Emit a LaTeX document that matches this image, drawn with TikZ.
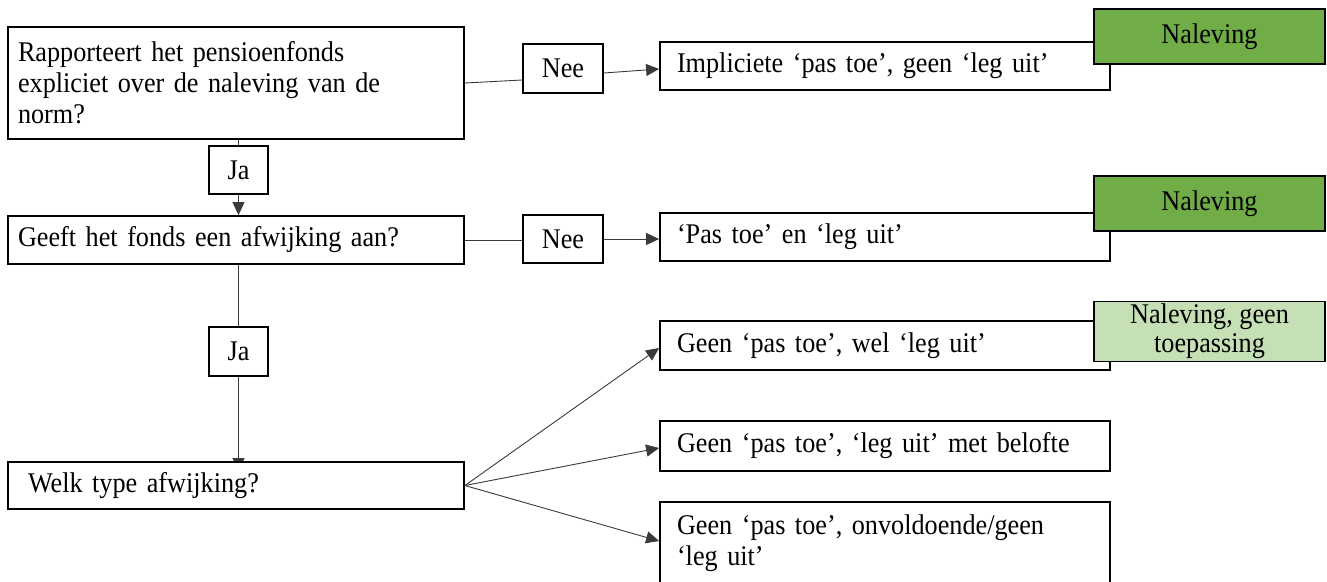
\documentclass[tikz,border=0pt]{standalone}
\usepackage{fontspec}
\setmainfont[FakeStretch=0.92]{Liberation Serif}
\usetikzlibrary{arrows.meta}
\pgfdeclarelayer{bg}
\pgfsetlayers{bg,main}
\definecolor{naldark}{HTML}{70AD47}
\definecolor{nallight}{HTML}{C5E0B4}
\definecolor{conn}{HTML}{3A3A3A}
\begin{document}
\begin{tikzpicture}[x=1pt,y=-1pt,
  every node/.style={font=\fontsize{28.5}{31}\selectfont},
  qbox/.style={draw=black, line width=1.8pt, fill=white, minimum height=#1,
    inner xsep=10pt, inner ysep=0pt, text width=436pt, align=left},
  rbox/.style={draw=black, line width=1.8pt, fill=white, minimum height=#1,
    inner xsep=17pt, inner ysep=0pt, text width=416pt, align=left},
  lbl/.style={draw=black, line width=1.8pt, fill=white, minimum width=#1,
    minimum height=48pt, inner sep=0pt},
  nal/.style={draw=black, line width=1.8pt, fill=#1, minimum width=231pt,
    inner sep=0pt, align=center},
  conline/.style={draw=conn, line width=0.9pt},
  conarrow/.style={draw=conn, line width=0.9pt, -{Triangle[length=13pt,width=12pt]}}
]
\useasboundingbox (0,0) rectangle (1327,581);

% left column
\node[qbox=112pt] (q1) at (236,83) {Rapporteert het pensioenfonds\\expliciet over de naleving van de\\norm?};
\node[lbl=59pt] (j1) at (238.5,170) {Ja};
\node[qbox=48pt] (q2) at (236,240) {Geeft het fonds een afwijking aan?};
\node[lbl=59pt, minimum height=49pt] (j2) at (238.5,351.5) {Ja};
\node[qbox=47pt, inner xsep=20pt, text width=416pt] (q3) at (236,485.5) {Welk type afwijking?};

% middle labels
\node[lbl=80pt, minimum height=49pt] (n1) at (563,68.5) {Nee};
\node[lbl=80pt] (n2) at (563,239) {Nee};

% right column
\node[rbox=48pt] (r1) at (885,66) {Impliciete ‘pas toe’, geen ‘leg uit’};
\node[rbox=48pt] (r2) at (885,237) {‘Pas toe’ en ‘leg uit’};
\node[rbox=49pt] (r3) at (885,345.5) {Geen ‘pas toe’, wel ‘leg uit’};
\node[rbox=50pt] (r4) at (885,446) {Geen ‘pas toe’, ‘leg uit’ met belofte};
\node[rbox=82pt] (r5) at (885,543) {Geen ‘pas toe’, onvoldoende/geen\\‘leg uit’};

% outcome tags
\node[nal=naldark, minimum height=55pt] (g1) at (1209.5,36.5) {\raisebox{-4pt}{Naleving}};
\node[nal=naldark, minimum height=55pt] (g2) at (1209.5,203.5) {\raisebox{-2pt}{Naleving}};
\node[nal=nallight, minimum height=59pt] (g3) at (1209.5,331.5) {\raisebox{-3pt}{\begin{tabular}{@{}c@{}}Naleving, geen\\[-2pt]toepassing\end{tabular}}};

% connectors
\draw[conline] (q1.east) -- ([yshift=-11.5pt]n1.west);
\draw[conarrow] ([yshift=-4.5pt]n1.east) -- ([yshift=-3pt]r1.west);
\draw[conline] (j1.north |- q1.south) -- (j1.north);
\draw[conarrow] (j1.south) -- (j1.south |- q2.north);
\draw[conline] (q2.east) -- (q2.east -| n2.west);
\draw[conarrow] (n2.east) -- (n2.east -| r2.west);
\draw[conline] (j2.north |- q2.south) -- (j2.north);
\begin{pgfonlayer}{bg}
\draw[conarrow] (j2.south) -- ([yshift=-10pt]j2.south |- q3.north);
\end{pgfonlayer}
\draw[conarrow] (q3.east) -- ([yshift=-2.5pt]r3.west);
\draw[conarrow] (q3.east) -- ([yshift=-2pt]r4.west);
\draw[conarrow] (q3.east) -- ([yshift=2pt]r5.west);
\end{tikzpicture}
\end{document}
